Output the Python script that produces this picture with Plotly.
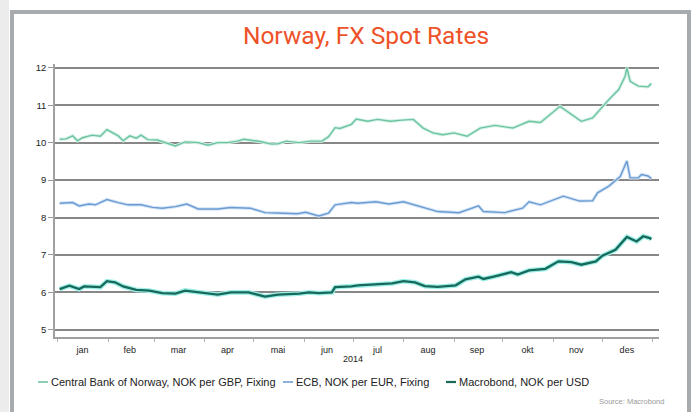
import plotly.graph_objects as go

# ---------------- data ----------------
gbp_dates = ["2014-01-02", "2014-01-06", "2014-01-10", "2014-01-13", "2014-01-16", "2014-01-22",
             "2014-01-27", "2014-01-31", "2014-02-07", "2014-02-10", "2014-02-14", "2014-02-18",
             "2014-02-21", "2014-02-25", "2014-03-03", "2014-03-10", "2014-03-14", "2014-03-20",
             "2014-03-28", "2014-04-03", "2014-04-09", "2014-04-15", "2014-04-21", "2014-04-25",
             "2014-05-05", "2014-05-12", "2014-05-16", "2014-05-21", "2014-05-29", "2014-06-05",
             "2014-06-12", "2014-06-16", "2014-06-20", "2014-06-23", "2014-06-30", "2014-07-03",
             "2014-07-10", "2014-07-16", "2014-07-24", "2014-07-31", "2014-08-07", "2014-08-13",
             "2014-08-19", "2014-08-25", "2014-09-01", "2014-09-09", "2014-09-17", "2014-09-26",
             "2014-10-07", "2014-10-17", "2014-10-24", "2014-11-05", "2014-11-11", "2014-11-18",
             "2014-11-25", "2014-12-01", "2014-12-05", "2014-12-11", "2014-12-15", "2014-12-16",
             "2014-12-18", "2014-12-23", "2014-12-29", "2014-12-31"]
gbp_values = [10.09, 10.10, 10.18, 10.05, 10.13, 10.20,
              10.17, 10.35, 10.18, 10.05, 10.18, 10.12,
              10.20, 10.08, 10.07, 9.96, 9.91, 10.02,
              10.00, 9.93, 10.00, 10.00, 10.04, 10.09,
              10.03, 9.96, 9.97, 10.04, 10.00, 10.04,
              10.04, 10.16, 10.40, 10.38, 10.49, 10.63,
              10.57, 10.62, 10.57, 10.60, 10.62, 10.39,
              10.26, 10.21, 10.26, 10.17, 10.39, 10.46,
              10.39, 10.57, 10.54, 10.97, 10.79, 10.57,
              10.66, 10.97, 11.15, 11.42, 11.78, 12.00,
              11.64, 11.51, 11.49, 11.58]

eur_dates = ["2014-01-02", "2014-01-10", "2014-01-14", "2014-01-20", "2014-01-24", "2014-01-31",
             "2014-02-07", "2014-02-13", "2014-02-21", "2014-02-28", "2014-03-06", "2014-03-14",
             "2014-03-21", "2014-03-28", "2014-04-09", "2014-04-17", "2014-04-29", "2014-05-08",
             "2014-05-15", "2014-05-28", "2014-06-02", "2014-06-10", "2014-06-16", "2014-06-20",
             "2014-06-30", "2014-07-04", "2014-07-15", "2014-07-23", "2014-08-01", "2014-08-14",
             "2014-08-22", "2014-09-04", "2014-09-16", "2014-09-19", "2014-10-02", "2014-10-13",
             "2014-10-17", "2014-10-24", "2014-10-31", "2014-11-07", "2014-11-17", "2014-11-25",
             "2014-11-28", "2014-12-05", "2014-12-12", "2014-12-16", "2014-12-18", "2014-12-23",
             "2014-12-25", "2014-12-29", "2014-12-31"]
eur_values = [8.38, 8.40, 8.31, 8.36, 8.34, 8.48,
              8.40, 8.34, 8.34, 8.27, 8.25, 8.29,
              8.36, 8.23, 8.23, 8.27, 8.25, 8.13,
              8.12, 8.10, 8.14, 8.04, 8.12, 8.34,
              8.40, 8.38, 8.42, 8.36, 8.42, 8.25,
              8.16, 8.13, 8.31, 8.16, 8.13, 8.25,
              8.42, 8.34, 8.45, 8.57, 8.44, 8.45,
              8.66, 8.84, 9.10, 9.51, 9.06, 9.06,
              9.15, 9.11, 9.04]

usd_dates = ["2014-01-02", "2014-01-08", "2014-01-14", "2014-01-17", "2014-01-27", "2014-01-31",
             "2014-02-05", "2014-02-10", "2014-02-18", "2014-02-26", "2014-03-06", "2014-03-14",
             "2014-03-20", "2014-03-28", "2014-04-09", "2014-04-17", "2014-04-28", "2014-05-08",
             "2014-05-16", "2014-05-29", "2014-06-04", "2014-06-10", "2014-06-18", "2014-06-20",
             "2014-06-30", "2014-07-04", "2014-07-17", "2014-07-25", "2014-08-01", "2014-08-08",
             "2014-08-14", "2014-08-22", "2014-09-02", "2014-09-08", "2014-09-16", "2014-09-19",
             "2014-09-26", "2014-10-02", "2014-10-06", "2014-10-10", "2014-10-17", "2014-10-27",
             "2014-11-04", "2014-11-12", "2014-11-18", "2014-11-27", "2014-12-01", "2014-12-09",
             "2014-12-16", "2014-12-22", "2014-12-26", "2014-12-30", "2014-12-31"]
usd_values = [6.09, 6.18, 6.09, 6.16, 6.14, 6.30,
              6.27, 6.16, 6.07, 6.05, 5.98, 5.97,
              6.05, 6.00, 5.94, 6.00, 6.00, 5.89,
              5.94, 5.97, 6.00, 5.98, 6.00, 6.14,
              6.16, 6.19, 6.21, 6.24, 6.30, 6.27,
              6.17, 6.15, 6.19, 6.35, 6.42, 6.36,
              6.43, 6.50, 6.54, 6.48, 6.59, 6.63,
              6.83, 6.81, 6.74, 6.83, 6.98, 7.14,
              7.48, 7.36, 7.50, 7.45, 7.42]

month_ticks = ["2014-01-16", "2014-02-14", "2014-03-16", "2014-04-15", "2014-05-16", "2014-06-15",
               "2014-07-16", "2014-08-16", "2014-09-15", "2014-10-16", "2014-11-15", "2014-12-16"]
month_labels = ["jan", "feb", "mar", "apr", "mai", "jun", "jul", "aug", "sep", "okt", "nov", "des"]
month_starts = ["2014-%02d-01" % m for m in range(1, 13)] + ["2015-01-01"]

series_names = ["Central Bank of Norway, NOK per GBP, Fixing",
                "ECB, NOK per EUR, Fixing",
                "Macrobond, NOK per USD"]
y_ticks = [5, 6, 7, 8, 9, 10, 11, 12]

# ---------------- styling ----------------
W, H = 694, 412
ML, MR, MT, MB = 55, 35, 64, 75
PW, PH = W - ML - MR, H - MT - MB


def px_x(px):
    return (px - ML) / PW


def px_y(py):
    return (H - MB - py) / PH


colors = ["#6cc4a2", "#6c9cd2", "#17695a"]
glows = ["#d6f1e6", "#d3e4f6", "#9fefe9"]
widths = [1.4, 1.4, 2.3]
glow_widths = [3.4, 3.4, 4.8]
all_dates = [gbp_dates, eur_dates, usd_dates]
all_vals = [gbp_values, eur_values, usd_values]

fig = go.Figure()
for i in range(3):
    fig.add_trace(go.Scatter(x=all_dates[i], y=all_vals[i], mode="lines",
                             line=dict(color=glows[i], width=glow_widths[i]),
                             hoverinfo="skip", showlegend=False))
    fig.add_trace(go.Scatter(x=all_dates[i], y=all_vals[i], mode="lines",
                             name=series_names[i],
                             line=dict(color=colors[i], width=widths[i]),
                             showlegend=False))

shapes = [
    dict(type="rect", xref="paper", yref="paper", x0=px_x(0), x1=px_x(9), y0=px_y(430), y1=px_y(0),
         fillcolor="#ececec", line=dict(width=0), layer="below"),
    dict(type="rect", xref="paper", yref="paper", x0=px_x(12), x1=px_x(689), y0=px_y(440), y1=px_y(12),
         fillcolor="white", line=dict(color="#a8abae", width=4), layer="below"),
]

legend_x = [38, 283, 446]
legend_y = 382
annotations = []
for i in range(3):
    shapes.append(dict(type="line", xref="paper", yref="paper",
                       x0=px_x(legend_x[i]), x1=px_x(legend_x[i] + 10),
                       y0=px_y(legend_y), y1=px_y(legend_y),
                       line=dict(color=colors[i], width=2.2 if i == 2 else 1.6)))
    annotations.append(dict(xref="paper", yref="paper", x=px_x(legend_x[i] + 11), y=px_y(legend_y),
                            xanchor="left", yanchor="middle", showarrow=False,
                            text=series_names[i],
                            font=dict(family="Liberation Sans, Arial, sans-serif", size=11, color="#222222")))

annotations.append(dict(xref="paper", yref="paper", x=px_x(353), y=px_y(359), xanchor="center",
                        yanchor="middle", showarrow=False, text="2014",
                        font=dict(family="Liberation Sans, Arial, sans-serif", size=9, color="#222222")))
annotations.append(dict(xref="paper", yref="paper", x=px_x(666), y=px_y(401), xanchor="right",
                        yanchor="middle", showarrow=False, text="Source: Macrobond",
                        font=dict(family="Liberation Sans, Arial, sans-serif", size=7.5, color="#9a9a9a")))

fig.update_layout(
    width=W, height=H,
    margin=dict(l=ML, r=MR, t=MT, b=MB, pad=0),
    paper_bgcolor="white", plot_bgcolor="rgba(0,0,0,0)",
    title=dict(text="Norway, FX Spot Rates", x=366 / W, xanchor="center",
               y=1 - 35 / H, yanchor="middle",
               font=dict(family="Roboto, Liberation Sans, sans-serif",
                         size=24.5, color="#ee5228")),
    shapes=shapes, annotations=annotations,
    showlegend=False,
)

fig.update_xaxes(
    type="date", range=["2013-12-30 04:00", "2015-01-04 17:00"],
    tickmode="array", tickvals=month_ticks, ticktext=month_labels, ticks="",
    ticklabelstandoff=3,
    tickfont=dict(family="Liberation Sans, Arial, sans-serif", size=9, color="#222222"),
    showgrid=False, zeroline=False,
    showline=True, linecolor="#a0a0a0", linewidth=1.5,
    minor=dict(tickmode="array", tickvals=month_starts, ticks="outside", ticklen=3,
               tickcolor="#b0b0b0", tickwidth=1, showgrid=False),
)
fig.update_yaxes(
    range=[4.81, 12.1], tickmode="array", tickvals=y_ticks,
    ticks="outside", ticklen=5, tickcolor="#999999", tickwidth=1,
    tickfont=dict(family="Liberation Sans, Arial, sans-serif", size=9.5, color="#222222"),
    showgrid=True, gridcolor="#878787", gridwidth=1.5, zeroline=False,
    showline=True, linecolor="#a0a0a0", linewidth=1.5,
)

fig.write_html("out.html", config={"displayModeBar": False},
               post_script="document.body.style.margin='0px';")
